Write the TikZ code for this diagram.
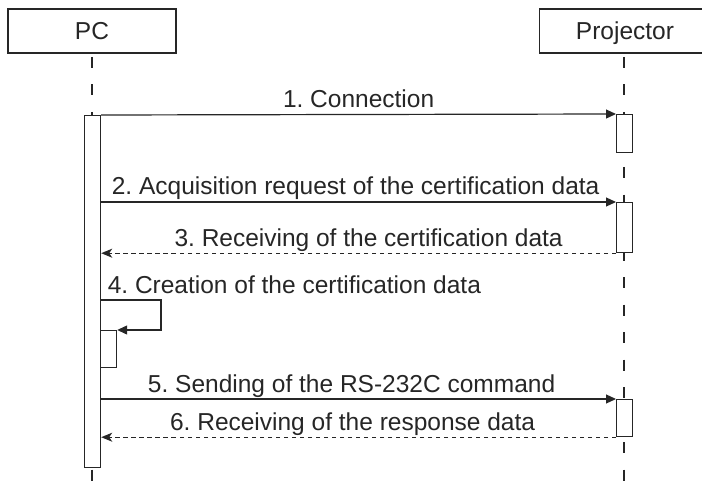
\documentclass[tikz,border=0pt]{standalone}
\usepackage{fontspec}
\setmainfont{Liberation Sans}
\usetikzlibrary{arrows.meta}
\definecolor{ink}{HTML}{262626}
\frenchspacing

\begin{document}
\begin{tikzpicture}[x=1bp,y=-1bp,ink,line width=1.2bp,
	actor/.style={draw,minimum height=44bp,inner sep=0pt,text height=22bp,text depth=4bp,font=\fontsize{24.5bp}{28bp}\selectfont},
	bar/.style={draw,fill=white,minimum width=16bp,inner sep=0pt,anchor=north west},
	life/.style={line width=1.1bp,dash pattern=on 11bp off 16.5bp},
	msg/.style={-{Triangle[length=10bp,width=9bp]}},
	reply/.style={dash pattern=on 4.5bp off 3.5bp,-{Stealth[length=11bp,width=9bp,inset=3bp]}},
	lbl/.style={font=\fontsize{24.5bp}{28bp}\selectfont,inner sep=0pt,anchor=base,yshift=7bp}]
	\useasboundingbox (0,0) rectangle (702,493);
	% the two parties
	\node[actor,minimum width=168bp] (pc) at (92,31) {PC};
	\node[actor,minimum width=170bp,anchor=west] (proj) at (539,31) {};
	\node[actor,draw=none] (projtxt) at (625,31) {Projector};
	% life lines
	\draw[life] (92,57) -- (92,493);
	\draw[life] (624,57) -- (624,493);
	% activations
	\node[bar,minimum height=352bp] (pcbar) at (84,115) {};
	\node[bar,minimum height=38bp] (pj1) at (616,114) {};
	\node[bar,minimum height=50bp] (pj2) at (616,202) {};
	\node[bar,minimum height=37bp] (self) at (100,330) {};
	\node[bar,minimum height=37bp] (pj3) at (616,399) {};
	\coordinate (loop) at (161,300);
	% messages
	\draw[msg] (pcbar.north east) -- node[lbl] (l1) {1. Connection} (pj1.north west);
	\draw[msg] (pcbar.east |- pj2.north) -- node[lbl,xshift=-3bp] (l2) {2. Acquisition request of the certification data} (pj2.north west);
	\draw[reply] (pj2.south west) -- node[lbl,xshift=10bp] (l3) {3. Receiving of the certification data} (pcbar.east |- pj2.south);
	\draw[msg] (pcbar.east |- loop) node[lbl,anchor=base west,xshift=6bp] (l4) {4. Creation of the certification data}
		-- (loop) |- (self.north east);
	\draw[msg] (pcbar.east |- pj3.north) -- node[lbl,xshift=-7bp] (l5) {5. Sending of the RS-232C command} (pj3.north west);
	\draw[reply] (pj3.south west) -- node[lbl,xshift=-6bp] (l6) {6. Receiving of the response data} (pcbar.east |- pj3.south);
\end{tikzpicture}
\end{document}
